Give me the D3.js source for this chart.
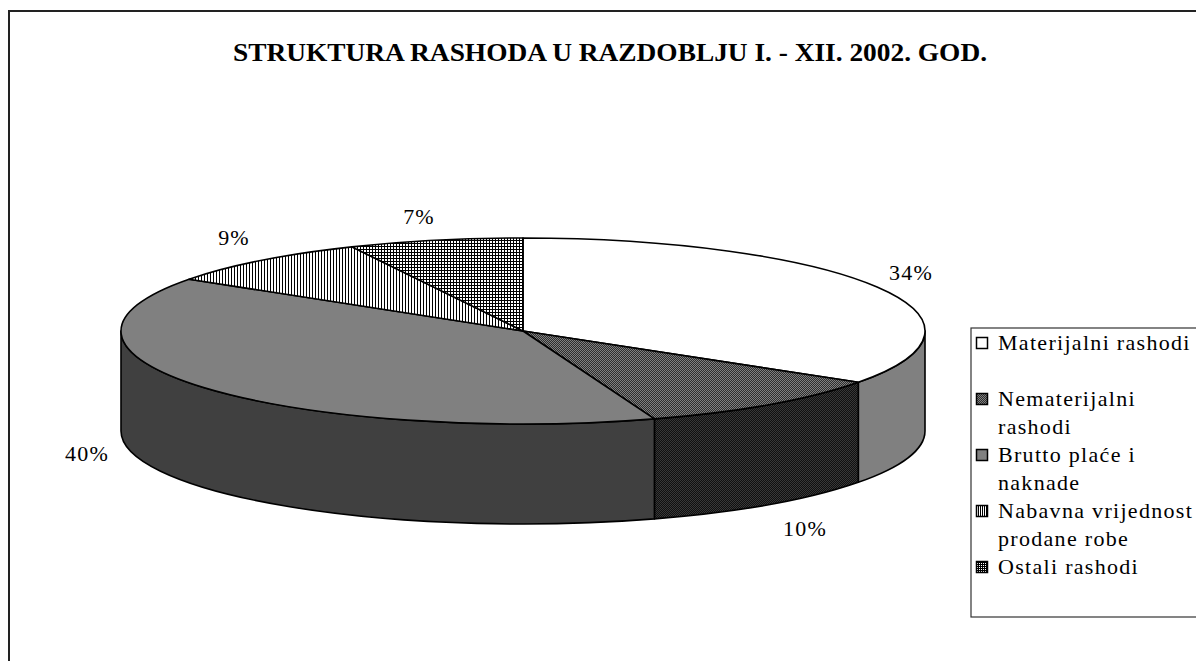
<!DOCTYPE html>
<html>
<head>
<meta charset="utf-8">
<script src="https://cdn.jsdelivr.net/npm/d3@7/dist/d3.min.js"></script>
<style>
  html, body { margin: 0; padding: 0; background: #fff; }
  svg { display: block; }
  text { font-family: "Liberation Serif", "Times New Roman", serif; fill: #000; }
</style>
</head>
<body>
<svg id="chart" width="1196" height="661"></svg>
<script>
// ---- data ----
const title = "STRUKTURA RASHODA U RAZDOBLJU I. - XII. 2002. GOD.";
const categories = ["Materijalni rashodi", "Nematerijalni rashodi", "Brutto plaće i naknade", "Nabavna vrijednost prodane robe", "Ostali rashodi"];
const legendLines = [["Materijalni rashodi"], ["Nematerijalni", "rashodi"], ["Brutto plaće i", "naknade"], ["Nabavna vrijednost", "prodane robe"], ["Ostali rashodi"]];
const values = [34.3, 10.4, 39.7, 8.6, 7.0];

// ---- layout / style (not data) ----
const W = 1196, H = 661;
const cx = 523, cy = 331, rx = 402, ry = 93, depth = 100;
const topFills = ["#ffffff", "url(#pNemTop)", "#808080", "url(#pStripe)", "url(#pGrid)"];
const wallFills = ["#808080", "url(#pNemWall)", "#404040", "url(#pStripeWall)", "url(#pGridWall)"];
const legendFills = ["#ffffff", "url(#pNemTop)", "#808080", "url(#pStripeLeg)", "url(#pGridLeg)"];
const labelPos = [[911, 280], [805, 536], [87, 461], [234, 245], [419, 224]];

const svg = d3.select("#chart");
const defs = svg.append("defs");

function checker(id, a, b) {
  const p = defs.append("pattern").attr("id", id).attr("patternUnits", "userSpaceOnUse")
    .attr("width", 2).attr("height", 2);
  p.append("rect").attr("width", 2).attr("height", 2).attr("fill", a);
  p.append("rect").attr("width", 1).attr("height", 1).attr("fill", b).attr("shape-rendering", "crispEdges");
  p.append("rect").attr("x", 1).attr("y", 1).attr("width", 1).attr("height", 1).attr("fill", b).attr("shape-rendering", "crispEdges");
}
checker("pNemTop", "#2e2e2e", "#808080");
checker("pNemWall", "#101010", "#383838");
function stripe(id, bg, fg, w) {
  const p = defs.append("pattern").attr("id", id).attr("patternUnits", "userSpaceOnUse")
    .attr("width", w).attr("height", 3);
  p.append("rect").attr("width", w).attr("height", 3).attr("fill", bg);
  p.append("rect").attr("width", 1).attr("height", 3).attr("fill", fg).attr("shape-rendering", "crispEdges");
}
stripe("pStripe", "#ffffff", "#000000", 3);
stripe("pStripeWall", "#808080", "#101010", 3);
stripe("pStripeLeg", "#ffffff", "#000000", 2);
function grid(id, bg, fg, w) {
  const p = defs.append("pattern").attr("id", id).attr("patternUnits", "userSpaceOnUse")
    .attr("width", w).attr("height", w);
  p.append("rect").attr("width", w).attr("height", w).attr("fill", bg);
  p.append("rect").attr("width", 1).attr("height", w).attr("fill", fg).attr("shape-rendering", "crispEdges");
  p.append("rect").attr("width", w).attr("height", 1).attr("fill", fg).attr("shape-rendering", "crispEdges");
}
grid("pGrid", "#ffffff", "#000000", 3);
grid("pGridWall", "#808080", "#101010", 3);
grid("pGridLeg", "#ffffff", "#000000", 2);

// outer frame
svg.append("rect").attr("x", 9).attr("y", 11).attr("width", 1300).attr("height", 800)
  .attr("fill", "none").attr("stroke", "#222").attr("stroke-width", 2);

// title
svg.append("text").attr("x", 233).attr("y", 61)
  .attr("textLength", 754).attr("lengthAdjust", "spacingAndGlyphs")
  .style("font-size", "25px").style("font-weight", "bold").text(title);

// pie geometry
const pie = d3.pie().sort(null).value(d => d).startAngle(0).endAngle(2 * Math.PI);
const arcs = pie(values);
const pt = (a, dy = 0) => [cx + rx * Math.sin(a), cy - ry * Math.cos(a) + dy];

function arcCmd(a0, a1, sweep, dy) {
  const p = pt(a1, dy);
  const large = Math.abs(a1 - a0) > Math.PI ? 1 : 0;
  return `A${rx},${ry} 0 ${large} ${sweep} ${p[0]},${p[1]}`;
}
function topPath(a0, a1) {
  const p0 = pt(a0);
  return `M${cx},${cy} L${p0[0]},${p0[1]} ${arcCmd(a0, a1, 1, 0)} Z`;
}
function wallPath(a0, a1) {
  const p0 = pt(a0), p1b = pt(a1, depth);
  return `M${p0[0]},${p0[1]} ${arcCmd(a0, a1, 1, 0)} L${p1b[0]},${p1b[1]} ${arcCmd(a1, a0, 0, depth)} Z`;
}

const gPie = svg.append("g");
// walls (front half only)
arcs.forEach((d, i) => {
  const a0 = Math.max(d.startAngle, Math.PI / 2), a1 = Math.min(d.endAngle, 3 * Math.PI / 2);
  if (a1 > a0) {
    gPie.append("path").attr("d", wallPath(a0, a1))
      .attr("fill", wallFills[i]).attr("stroke", "#000").attr("stroke-width", 1.6)
      .attr("stroke-linejoin", "round");
  }
});
// tops
arcs.forEach((d, i) => {
  gPie.append("path").attr("d", topPath(d.startAngle, d.endAngle))
    .attr("fill", topFills[i]).attr("stroke", "#000").attr("stroke-width", 1.6)
    .attr("stroke-linejoin", "round");
});

// data labels
arcs.forEach((d, i) => {
  svg.append("text").attr("x", labelPos[i][0]).attr("y", labelPos[i][1])
    .attr("text-anchor", "middle").style("font-size", "22px").style("letter-spacing", "1.2px")
    .text(Math.round(d.data) + "%");
});

// legend
svg.append("rect").attr("x", 971).attr("y", 328).attr("width", 400).attr("height", 289)
  .attr("fill", "#fff").attr("stroke", "#333").attr("stroke-width", 1.2);
const lg = svg.append("g");
legendLines.forEach((lines, i) => {
  const base = 350 + i * 56;
  lg.append("rect").attr("x", 976.5).attr("y", base - 12.5).attr("width", 11).attr("height", 11)
    .attr("fill", legendFills[i]).attr("stroke", "#000").attr("stroke-width", 1.5);
  lines.forEach((ln, j) => {
    lg.append("text").attr("x", 998).attr("y", base + j * 27.5)
      .style("font-size", "22px").style("letter-spacing", "1.3px").text(ln);
  });
});
</script>
</body>
</html>
